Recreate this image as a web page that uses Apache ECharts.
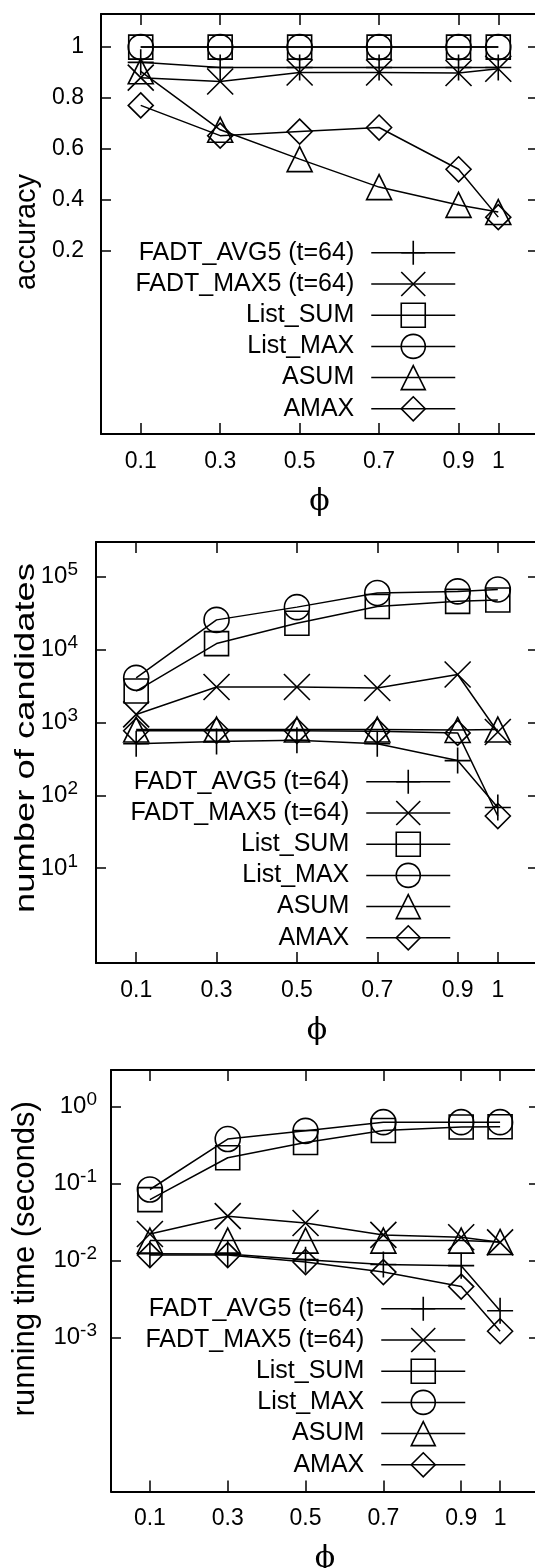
<!DOCTYPE html>
<html>
<head>
<meta charset="utf-8">
<script src="https://cdn.jsdelivr.net/npm/echarts@6/dist/echarts.min.js"></script>
<style>
html,body{margin:0;padding:0;background:#fff;}
#chart{width:535px;height:1568px;}
</style>
</head>
<body>
<div id="chart"></div>
<script>
// ---- data ----
const phiValues = [0.1, 0.3, 0.5, 0.7, 0.9, 1];
const xTickValues = [0.1, 0.3, 0.5, 0.7, 0.9, 1];
const seriesNames = ['FADT_AVG5 (t=64)', 'FADT_MAX5 (t=64)', 'List_SUM', 'List_MAX', 'ASUM', 'AMAX'];

// accuracy
const accAvg5    = [0.94, 0.92, 0.92, 0.92, 0.92, 0.92];
const accMax5    = [0.88, 0.865, 0.90, 0.90, 0.898, 0.915];
const accListSum = [1, 1, 1, 1, 1, 1];
const accListMax = [1, 1, 1, 1, 1, 1];
const accAsum    = [0.905, 0.675, 0.56, 0.45, 0.38, 0.352];
const accAmax    = [0.771, 0.652, 0.668, 0.684, 0.52, 0.332];
const accTicks   = [0.2, 0.4, 0.6, 0.8, 1];

// number of candidates
const candAvg5    = [510, 550, 570, 510, 300, 68];
const candMax5    = [1290, 3070, 3070, 2970, 4550, 740];
const candListSum = [2700, 12100, 23000, 39000, 46000, 48000];
const candListMax = [4100, 25600, 38300, 60000, 63000, 67000];
const candAsum    = [800, 800, 800, 800, 790, 800];
const candAmax    = [770, 770, 770, 760, 720, 52];
const candTicks   = [10, 100, 1000, 10000, 100000];

// running time (seconds)
const timeAvg5    = [0.0123, 0.0122, 0.0103, 0.0089, 0.0086, 0.00223];
const timeMax5    = [0.0222, 0.0378, 0.0308, 0.0216, 0.0201, 0.0173];
const timeListSum = [0.062, 0.217, 0.343, 0.49, 0.545, 0.55];
const timeListMax = [0.084, 0.38, 0.486, 0.63, 0.63, 0.63];
const timeAsum    = [0.0182, 0.0182, 0.0182, 0.0182, 0.0182, 0.0175];
const timeAmax    = [0.0118, 0.0118, 0.0096, 0.0071, 0.0046, 0.00121];
const timeTicks   = [0.001, 0.01, 0.1, 1];

// ---- styling ----
const FONT = 'Liberation Sans, Arial, sans-serif';
const symbols = [
  'path://M0,5L10,5M5,0L5,10',
  'path://M0,0L10,10M10,0L0,10',
  'rect', 'circle', 'triangle', 'diamond'
];
const symSizes = [26, 26, 24, 25, 25, 25];

const panels = [
  {data: [accAvg5, accMax5, accListSum, accListMax, accAsum, accAmax], ticks: accTicks,
   type: 'value', min: -0.52, max: 1.13, name: 'accuracy', nameSize: 29, namePad: [0, 16, 0, 0], nameGap: 58,
   grid: {left: 101, top: 14, width: 437, height: 420},
   legend: {right: 79, top: 240}},
  {data: [candAvg5, candMax5, candListSum, candListMax, candAsum, candAmax], ticks: candTicks,
   type: 'log', min: 0.5, max: 300000, name: '', nameSize: 28, namePad: [0, 0, 0, 0], nameGap: 50,
   grid: {left: 96, top: 542, width: 442, height: 421},
   legend: {right: 84, top: 769}},
  {data: [timeAvg5, timeMax5, timeListSum, timeListMax, timeAsum, timeAmax], ticks: timeTicks,
   type: 'log', min: 0.00001, max: 3, name: 'running time (seconds)', nameSize: 31, namePad: [0, 0, 0, 44], nameGap: 70,
   grid: {left: 111, top: 1070, width: 428, height: 421.5},
   legend: {right: 69, top: 1296}}
];

function logLabel(v) {
  const e = Math.round(Math.log10(v));
  return '{b|10}{s|' + e + '}';
}

const grids = [], xAxes = [], yAxes = [], series = [], legends = [];
const axisLine = {show: true, onZero: false, lineStyle: {color: '#000', width: 2}};

panels.forEach((p, gi) => {
  grids.push(Object.assign({containLabel: false, outerBoundsMode: 'none'}, p.grid));
  // bottom x
  xAxes.push({
    gridIndex: gi, type: 'value', min: 0, max: 1.1, position: 'bottom',
    axisLine: axisLine, splitLine: {show: false},
    axisTick: {show: true, inside: true, length: 11, customValues: xTickValues, lineStyle: {color: '#000', width: 1.5}},
    axisLabel: {show: true, customValues: xTickValues, margin: 16, color: '#000', fontSize: 23, fontFamily: FONT,
                formatter: v => String(v)},
    name: '\u03D5', nameLocation: 'middle', nameGap: 53,
    nameTextStyle: {fontFamily: 'DejaVu Serif, serif', fontSize: 30, color: '#000'}
  });
  // top x (mirror)
  xAxes.push({
    gridIndex: gi, type: 'value', min: 0, max: 1.1, position: 'top',
    axisLine: axisLine, splitLine: {show: false},
    axisTick: {show: true, inside: true, length: 11, customValues: xTickValues, lineStyle: {color: '#000', width: 1.5}},
    axisLabel: {show: false}
  });
  const yBase = {
    gridIndex: gi, type: p.type, min: p.min, max: p.max,
    axisLine: axisLine, splitLine: {show: false}, minorTick: {show: false},
    axisTick: {show: true, inside: true, length: 10, customValues: p.ticks, lineStyle: {color: '#000', width: 1.5}}
  };
  if (p.type === 'log') yBase.logBase = 10;
  yAxes.push(Object.assign({}, yBase, {
    position: 'left',
    axisLabel: p.type === 'log' ? {
      show: true, customValues: p.ticks, margin: gi === 1 ? 18 : 14, formatter: logLabel,
      rich: {
        b: {fontSize: 24, fontFamily: FONT, color: '#000'},
        s: {fontSize: 19, fontFamily: FONT, color: '#000', padding: [0, 0, 13, 0]}
      }
    } : {
      show: true, customValues: p.ticks, margin: 17, color: '#000', fontSize: 23, fontFamily: FONT,
      formatter: v => String(v)
    },
    name: p.name, nameLocation: 'middle', nameGap: p.nameGap,
    nameTextStyle: {fontFamily: FONT, fontSize: p.nameSize, color: '#000', padding: p.namePad}
  }));
  yAxes.push(Object.assign({}, yBase, {position: 'right', axisLabel: {show: false}}));

  p.data.forEach((vals, si) => {
    series.push({
      name: seriesNames[si], type: 'line',
      xAxisIndex: gi * 2, yAxisIndex: gi * 2,
      data: phiValues.map((x, i) => [x, vals[i]]),
      symbol: symbols[si], symbolSize: symSizes[si],
      showSymbol: true, animation: false,
      lineStyle: {color: '#000', width: 1.5},
      itemStyle: {color: 'rgba(0,0,0,0)', borderColor: '#000', borderWidth: 1.6},
      emphasis: {disabled: true}
    });
  });

  legends.push({
    orient: 'vertical', align: 'right', right: p.legend.right, top: p.legend.top,
    padding: 0, itemGap: 5.6, itemWidth: 84, itemHeight: 30,
    selectedMode: false,
    data: seriesNames,
    textStyle: {fontFamily: FONT, fontSize: 25, color: '#000', padding: [0, 12, 0, 0]},
    itemStyle: {color: 'rgba(0,0,0,0)', borderColor: '#000', borderWidth: 1.6},
    lineStyle: {color: '#000', width: 1.5}
  });
});

const chart = echarts.init(document.getElementById('chart'), null, {renderer: 'canvas'});
chart.setOption({
  animation: false,
  backgroundColor: '#fff',
  grid: grids, xAxis: xAxes, yAxis: yAxes, series: series, legend: legends,
  graphic: [{
    type: 'text', x: 26, y: 738, rotation: Math.PI / 2, scaleX: 1.3,
    style: {text: 'number of candidates', font: '28px ' + FONT, fill: '#000',
            textAlign: 'center', textVerticalAlign: 'middle'}
  }]
});
</script>
</body>
</html>
